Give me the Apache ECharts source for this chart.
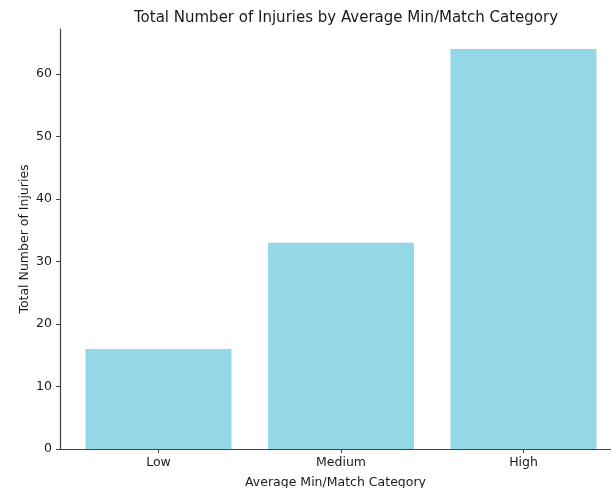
<!DOCTYPE html>
<html>
<head>
<meta charset="utf-8">
<script src="https://cdn.jsdelivr.net/npm/echarts@6/dist/echarts.min.js"></script>
<style>html,body{margin:0;padding:0;background:#fff;}#c{width:611px;height:488px;}</style>
</head>
<body>
<div id="c"></div>
<script>
const categories = ["Low", "Medium", "High"];
const injuries = [16, 33, 64];

const chart = echarts.init(document.getElementById('c'), null, {renderer: 'canvas'});
const font = 'DejaVu Sans';
const txt = '#1a1a1a';
const axisCol = '#444';
chart.setOption({
  animation: false,
  backgroundColor: '#ffffff',
  title: {
    text: 'Total Number of Injuries by Average Min/Match Category',
    left: 341, top: 6, textAlign: 'center',
    textStyle: {fontFamily: font, fontSize: 15, fontWeight: 'normal', color: txt}
  },
  grid: [
    {left: 60, right: 0, top: 29, bottom: 39, containLabel: false, outerBoundsMode: 'none'},
    {left: 158.5, right: 87.5, top: 29, bottom: 39, containLabel: false, outerBoundsMode: 'none'}
  ],
  xAxis: [{
    type: 'value', gridIndex: 0, min: -0.54, max: 2.48,
    name: 'Average Min/Match Category', nameLocation: 'middle', nameGap: 27, nameMoveOverlap: false,
    nameTextStyle: {fontFamily: font, fontSize: 12.5, color: txt},
    axisLine: {show: true, onZero: false, lineStyle: {color: axisCol, width: 1.2}},
    axisTick: {show: false},
    axisLabel: {show: false},
    splitLine: {show: false}
  }, {
    type: 'value', gridIndex: 1, min: 0, max: categories.length - 1, interval: 1,
    axisLine: {show: false, onZero: false},
    axisTick: {show: true, length: 4, lineStyle: {color: axisCol, width: 1}},
    axisLabel: {show: true, formatter: v => categories[Math.round(v)] || '', fontFamily: font, fontSize: 12.5, color: txt, margin: 7},
    splitLine: {show: false}
  }],
  yAxis: [{
    type: 'value', gridIndex: 0, min: 0, max: 67.2, interval: 10,
    name: 'Total Number of Injuries', nameLocation: 'middle', nameGap: 29, nameRotate: 90, nameMoveOverlap: false,
    nameTextStyle: {fontFamily: font, fontSize: 12.5, color: txt},
    axisLine: {show: true, onZero: false, lineStyle: {color: axisCol, width: 1.2}},
    axisTick: {show: true, length: 4, lineStyle: {color: axisCol, width: 1}},
    axisLabel: {showMaxLabel: false, fontFamily: font, fontSize: 12.5, color: txt, margin: 8},
    splitLine: {show: false}
  }, {
    type: 'value', gridIndex: 1, min: 0, max: 67.2, show: false
  }],
  series: [{
    type: 'bar', xAxisIndex: 0, yAxisIndex: 0,
    data: categories.map((c, i) => [i, injuries[i]]),
    barWidth: 146,
    itemStyle: {color: '#94d7e7'}
  }]
});
</script>
</body>
</html>
